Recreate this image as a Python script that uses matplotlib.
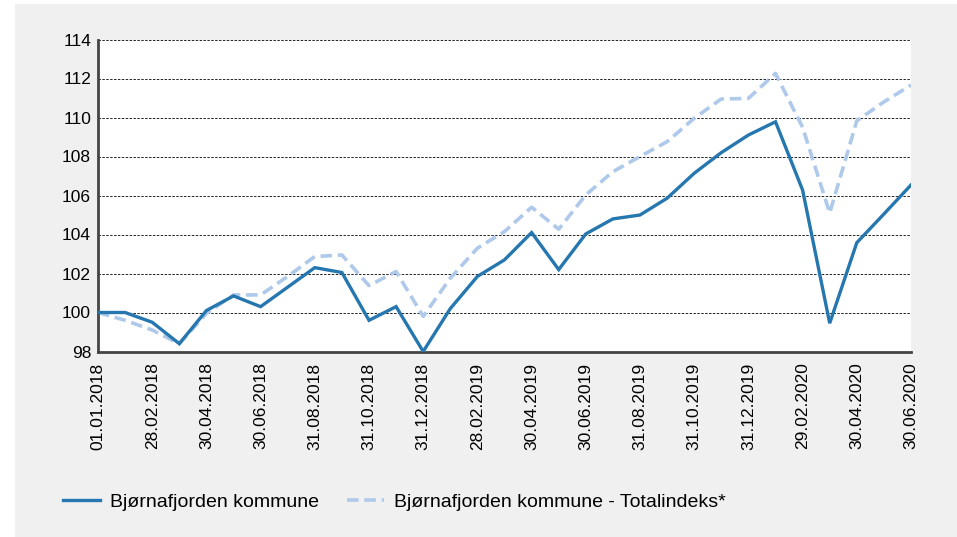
import matplotlib.pyplot as plt
from matplotlib.patches import Rectangle

plt.rcParams["font.family"] = ["Liberation Sans", "DejaVu Sans"]

# månedlige verdier 01.01.2018 - 30.06.2020
kommune = [100.0, 100.0, 99.5, 98.4, 100.1, 100.85, 100.3, 101.3, 102.3, 102.05,
           99.6, 100.3, 98.0, 100.2, 101.85, 102.7, 104.1, 102.2, 104.03, 104.8,
           105.0, 105.86, 107.14, 108.2, 109.1, 109.78, 106.28, 99.45, 103.58, 105.05,
           106.54]
totalindeks = [100.0, 99.6, 99.1, 98.4, 99.95, 100.9, 100.9, 101.85, 102.87, 102.95,
               101.38, 102.1, 99.8, 101.76, 103.3, 104.15, 105.4, 104.27, 106.03, 107.22,
               108.0, 108.76, 109.96, 110.95, 110.98, 112.26, 109.5, 105.1, 109.83, 110.8,
               111.66]
tick_labels = ["01.01.2018", "28.02.2018", "30.04.2018", "30.06.2018", "31.08.2018",
               "31.10.2018", "31.12.2018", "28.02.2019", "30.04.2019", "30.06.2019",
               "31.08.2019", "31.10.2019", "31.12.2019", "29.02.2020", "30.04.2020",
               "30.06.2020"]
y_ticks = [98, 100, 102, 104, 106, 108, 110, 112, 114]

fig = plt.figure(figsize=(9.57, 5.37), dpi=100)
fig.patch.set_facecolor("white")
fig.patches.append(Rectangle((15 / 957, 0), 1, 1 - 4 / 537, transform=fig.transFigure,
                             facecolor="#f0f0f0", edgecolor="none", zorder=-10))

ax = fig.add_axes([98 / 957, 1 - 351.5 / 537, (911 - 98) / 957, (351.5 - 39.5) / 537])
ax.set_facecolor("white")

x = list(range(len(kommune)))
ax.plot(x, kommune, color="#2677b0", lw=2.4, label="Bjørnafjorden kommune", zorder=3,
        solid_joinstyle="miter")
ax.plot(x, totalindeks, color="#aec9ea", lw=2.6, dashes=(3.2, 1.6),
        label="Bjørnafjorden kommune - Totalindeks*", zorder=2)

ax.set_xlim(0, 30)
ax.set_ylim(98, 114)
ax.set_yticks(y_ticks)
ax.set_yticklabels([str(v) for v in y_ticks])
ax.set_xticks(range(0, 31, 2))
ax.set_xticklabels(tick_labels, rotation=90)
ax.tick_params(length=0, labelsize=12.5, colors="black")
ax.tick_params(axis="y", pad=5)
ax.tick_params(axis="x", pad=8)

ax.grid(axis="y", color="#222222", lw=0.7, linestyle=(0, (2.5, 1.5)))
ax.set_axisbelow(True)
for s in ["top", "right"]:
    ax.spines[s].set_visible(False)
for s in ["left", "bottom"]:
    ax.spines[s].set_color("#444444")
    ax.spines[s].set_linewidth(2)

fig.legend(loc="center left", bbox_to_anchor=(63 / 957, 1 - 502 / 537), ncol=2,
           frameon=False, fontsize=14, handlelength=1.9, handletextpad=0.5,
           columnspacing=1.45, borderpad=0, borderaxespad=0)

fig.savefig("out.png", dpi=100, facecolor=fig.get_facecolor())
